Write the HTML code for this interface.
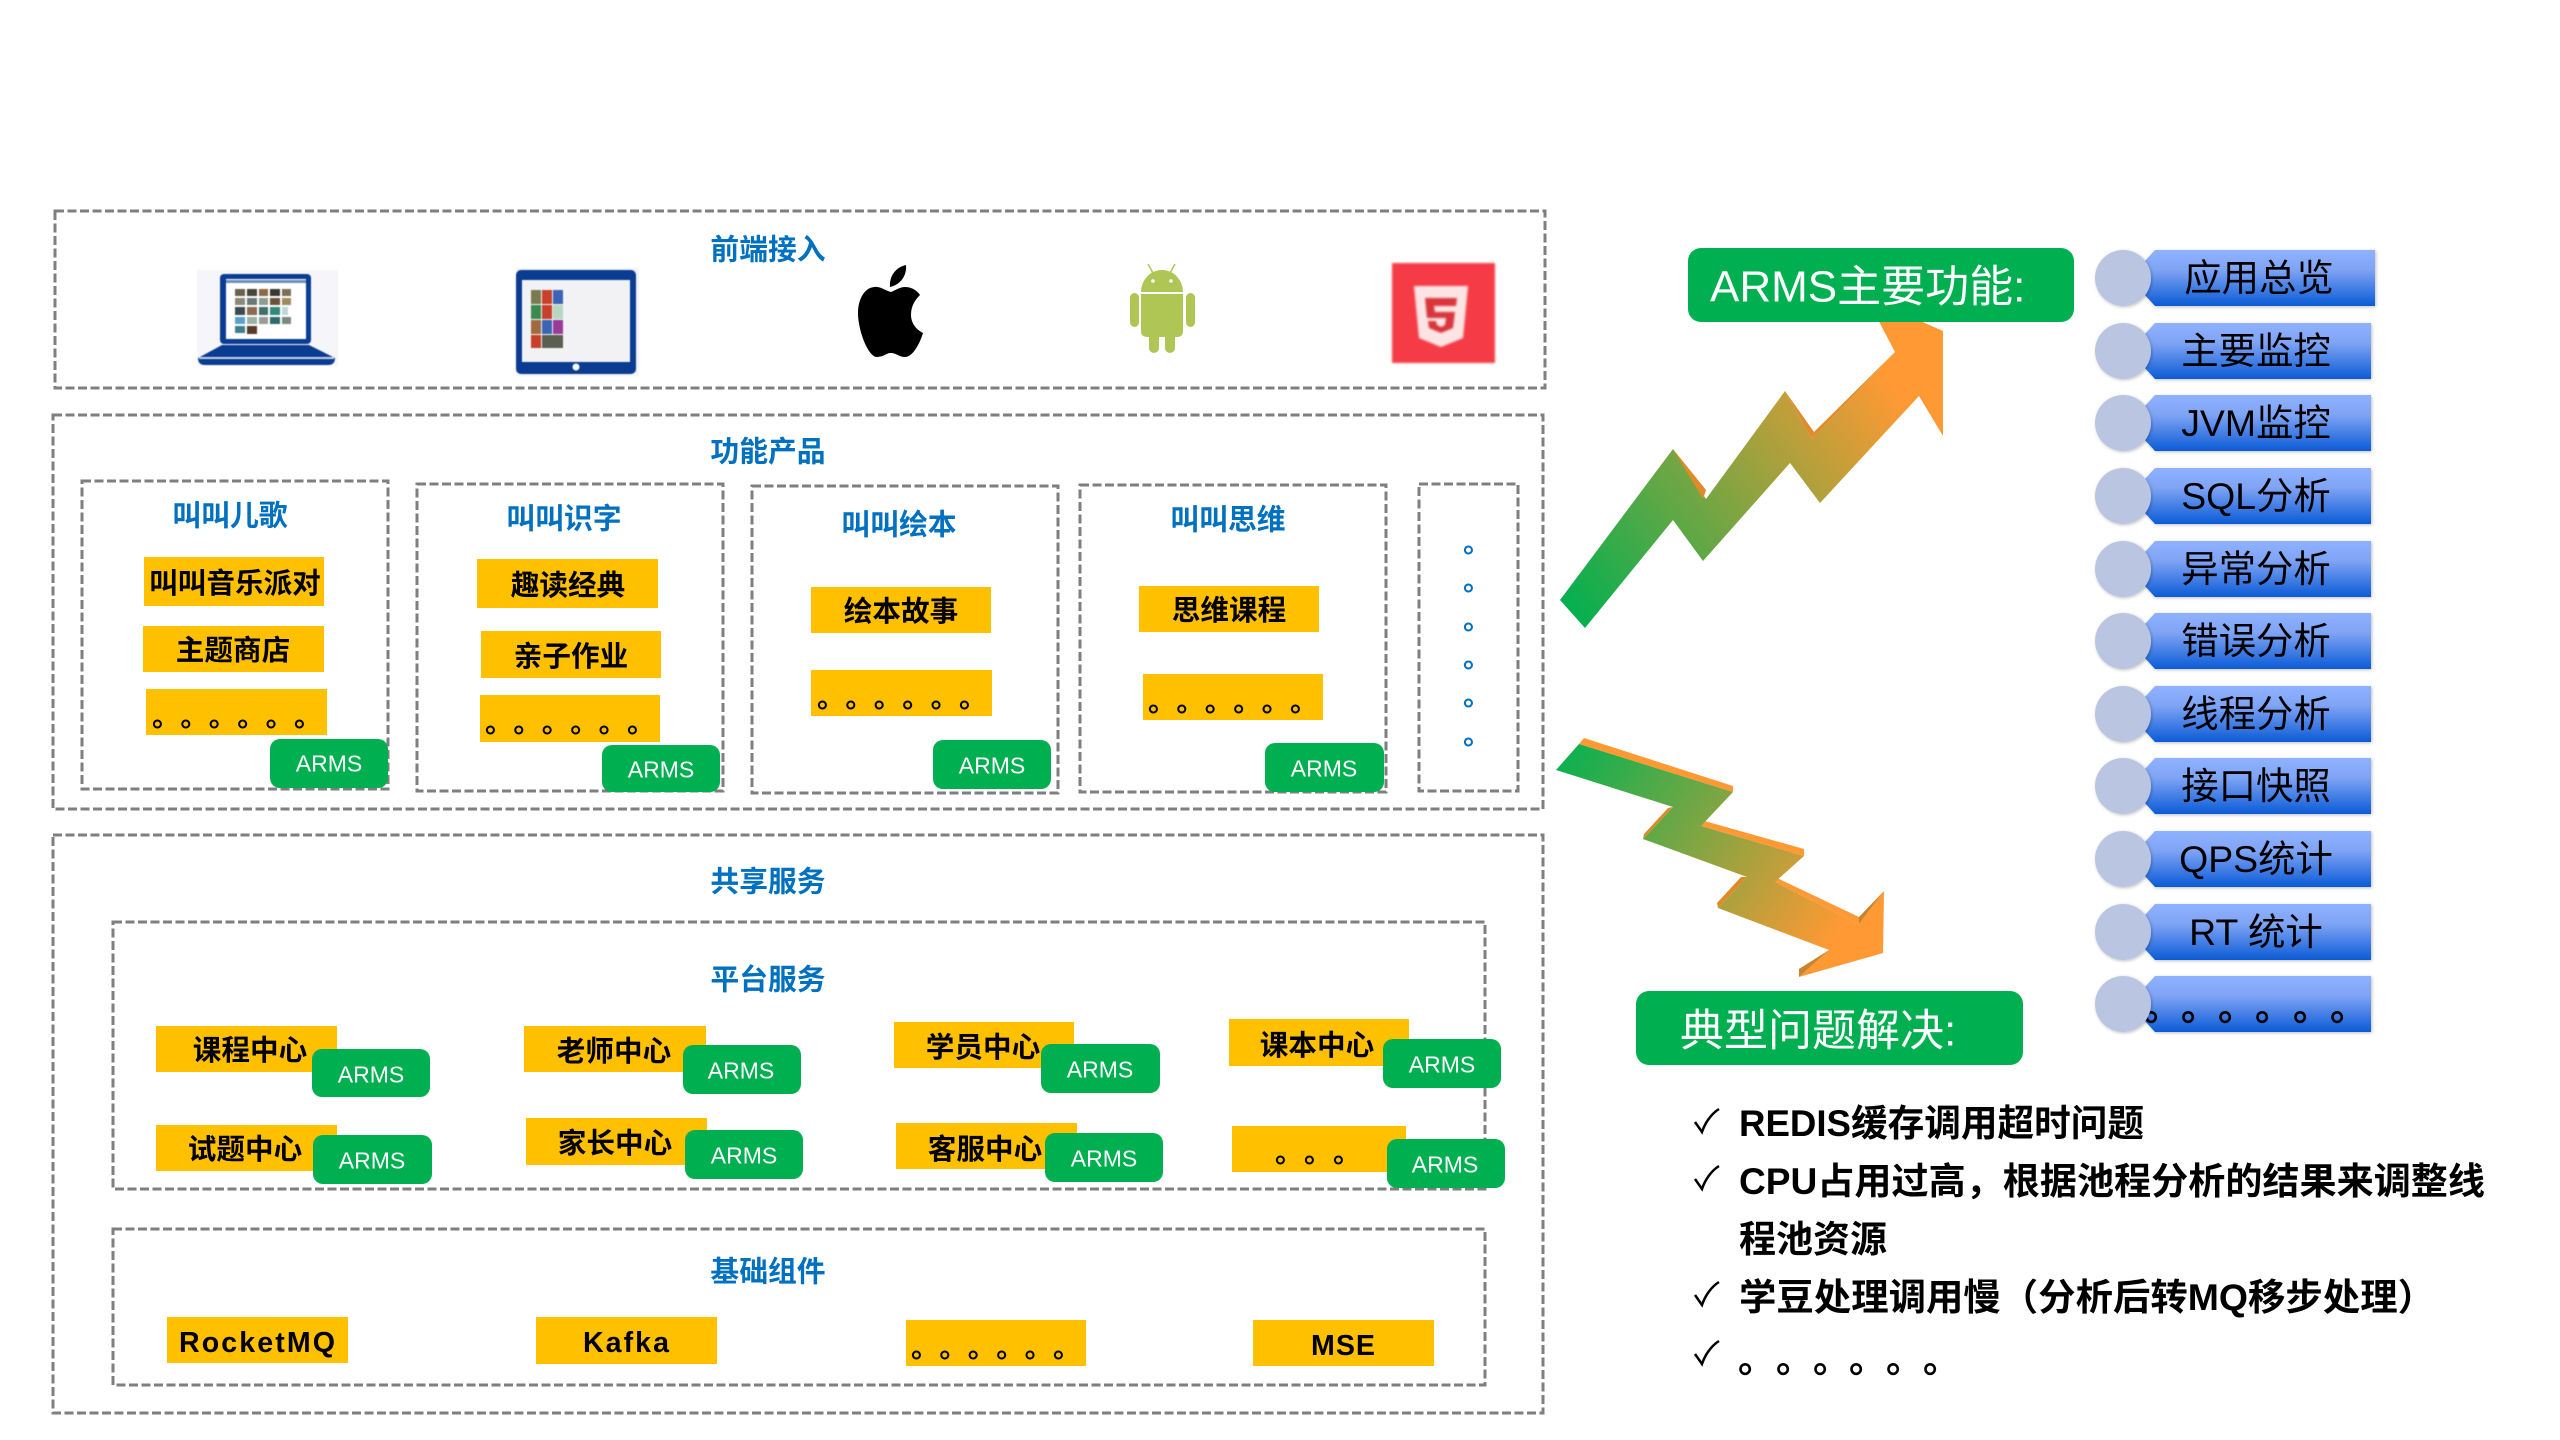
<!DOCTYPE html>
<html lang="zh"><head><meta charset="utf-8"><title>ARMS</title>
<style>
html,body{margin:0;padding:0;background:#fff}
svg{display:block}
text{font-family:"Liberation Sans","Noto Sans CJK SC",sans-serif;text-spacing-trim:space-all}
.box{fill:none;stroke:#7f7f7f;stroke-width:3;stroke-dasharray:9 3.5}
.t{font-size:28.8px;font-weight:700;fill:#0070c0;text-anchor:middle;dominant-baseline:central;transform:translateY(1.5px)}
.y{fill:#ffc000}
.g{fill:#00b050}
.k{font-size:28.6px;font-weight:700;fill:#000;text-anchor:middle;dominant-baseline:central;transform:translateY(1px)}
.a{font-size:23px;fill:#fff;text-anchor:middle;dominant-baseline:central;transform:translateY(.5px)}
.d{font-size:28px;font-weight:700;fill:#000}
.b{font-size:37.4px;fill:#000;text-anchor:middle;dominant-baseline:central}
.h{font-size:44px;fill:#fff;dominant-baseline:central;transform:translateY(2px)}
.l{font-size:37px;font-weight:700;fill:#000;dominant-baseline:central;transform:translateY(.5px)}
.c{fill:none;stroke:#000;stroke-width:2.5}
.soft{filter:blur(.5px)}
</style></head><body>
<svg xmlns="http://www.w3.org/2000/svg" width="2560" height="1440" viewBox="0 0 2560 1440">
<defs>
<linearGradient id="rowg" x1="0" y1="0" x2="0" y2="1"><stop offset="0" stop-color="#8fb2ff"/><stop offset=".35" stop-color="#7fa4f4"/><stop offset="1" stop-color="#0b5bd6"/></linearGradient>
<linearGradient id="up" gradientUnits="userSpaceOnUse" x1="1565" y1="615" x2="1920" y2="350"><stop offset="0" stop-color="#00b050"/><stop offset=".9" stop-color="#ff9933"/></linearGradient>
<linearGradient id="dn" gradientUnits="userSpaceOnUse" x1="1570" y1="760" x2="1850" y2="945"><stop offset="0" stop-color="#10b050"/><stop offset=".95" stop-color="#ff9933"/></linearGradient>
<filter id="sh" x="-5%" y="-10%" width="110%" height="125%"><feDropShadow dx="1" dy="1" stdDeviation="1.5" flood-color="#000" flood-opacity=".25"/></filter>
<g id="row">
<path d="M2155 0H2371V56H2155L2144 44V12Z" fill="url(#rowg)" filter="url(#sh)"/>
<ellipse cx="2123" cy="28" rx="28" ry="28" fill="#bac5e2" filter="url(#sh)"/>
</g>
</defs>

<!-- frames -->
<rect class="box" x="55" y="211" width="1490" height="177"/>
<rect class="box" x="53" y="415" width="1490" height="394"/>
<rect class="box" x="82" y="481" width="306" height="308"/>
<rect class="box" x="417" y="484" width="306" height="307"/>
<rect class="box" x="752" y="486" width="306" height="307"/>
<rect class="box" x="1080" y="485" width="306" height="307"/>
<rect class="box" x="1419" y="484" width="99" height="307"/>
<rect class="box" x="53" y="835" width="1490" height="578"/>
<rect class="box" x="113" y="922" width="1372" height="267"/>
<rect class="box" x="113" y="1229" width="1372" height="156"/>

<!-- titles -->
<text class="t" x="768" y="249">前端接入</text>
<text class="t" x="768" y="451">功能产品</text>
<text class="t" x="230" y="515">叫叫儿歌</text>
<text class="t" x="564" y="518">叫叫识字</text>
<text class="t" x="899" y="524">叫叫绘本</text>
<text class="t" x="1228" y="519">叫叫思维</text>
<text class="t" x="768" y="881">共享服务</text>
<text class="t" x="768" y="979">平台服务</text>
<text class="t" x="768" y="1271">基础组件</text>

<!-- laptop -->
<g class="soft">
<rect x="197" y="270" width="141" height="96" fill="#f6f6fa"/>
<rect x="220" y="274" width="91" height="70" rx="4" fill="#0a3d91"/>
<rect x="226" y="279" width="80" height="60" fill="#fff"/>
<rect x="226" y="280" width="80" height="3" fill="#6f8fbb"/>
<g fill="#6a6250">
<rect x="235" y="289" width="10" height="7"/><rect x="247" y="289" width="10" height="7" fill="#4a4438"/><rect x="259" y="289" width="9" height="7" fill="#8a6a48"/><rect x="270" y="289" width="10" height="7" fill="#3a3a34"/><rect x="282" y="289" width="9" height="7" fill="#7a7058"/>
<rect x="235" y="298" width="10" height="7" fill="#8a8a7a"/><rect x="247" y="298" width="10" height="7" fill="#6a7a78"/><rect x="259" y="298" width="9" height="7" fill="#8f9a90"/><rect x="270" y="298" width="10" height="7" fill="#6a5438"/><rect x="282" y="298" width="9" height="7" fill="#a08a60"/>
<rect x="235" y="307" width="10" height="8" fill="#3a4a50"/><rect x="247" y="307" width="10" height="8" fill="#8a6a50"/><rect x="259" y="307" width="9" height="8" fill="#3f6f6a"/><rect x="270" y="307" width="10" height="8" fill="#2f8a7a"/><rect x="282" y="307" width="6" height="8" fill="#c0d8d8"/>
<rect x="235" y="317" width="10" height="7" fill="#5aa0c8"/><rect x="247" y="317" width="10" height="7" fill="#9ab0a8"/><rect x="259" y="317" width="9" height="7" fill="#9a9a98"/><rect x="270" y="317" width="10" height="7" fill="#2f6a6a"/><rect x="282" y="317" width="9" height="7" fill="#7a8a80"/>
<rect x="235" y="326" width="10" height="7" fill="#3f7f8a"/><rect x="247" y="326" width="10" height="8" fill="#5a3a28"/>
</g>
<path d="M222 345H309L335 358Q335 365 328 365H205Q198 365 198 358Z" fill="#0a3d91"/>
<rect x="199" y="357" width="135" height="2" fill="#c8d4e8"/>
</g>
<!-- tablet -->
<g class="soft">
<rect x="516" y="268" width="123" height="108" fill="#f3f3f6"/>
<rect x="516" y="270" width="120" height="104" rx="5" fill="#0a3d91"/>
<rect x="522" y="280" width="108" height="82" fill="#f2f2f4"/>
<rect x="531" y="290" width="10" height="14" fill="#7a7a50"/><rect x="542" y="290" width="10" height="14" fill="#c8402a"/><rect x="553" y="290" width="10" height="14" fill="#3a64b4"/>
<rect x="531" y="305" width="10" height="14" fill="#3a8a50"/><rect x="542" y="305" width="10" height="14" fill="#c8402a"/><rect x="553" y="305" width="10" height="14" fill="#b6d8c0"/>
<rect x="531" y="320" width="10" height="14" fill="#a06a40"/><rect x="542" y="320" width="10" height="14" fill="#3a64b4"/><rect x="553" y="320" width="10" height="14" fill="#9a3a9a"/>
<rect x="531" y="335" width="10" height="13" fill="#c8402a"/><rect x="542" y="335" width="21" height="13" fill="#5a5f50"/>
<circle cx="576" cy="367" r="3.5" fill="#fff"/>
</g>
<!-- apple -->
<path d="M891 292C884 290 880 286 874 287C864 288 858 300 858 313C858 330 868 357 877 357C884 357 886 353 891 353C896 353 899 357 905 357C913 357 920 343 923 333C915 329 911 322 911 315C911 306 915 300 920 295C916 289 910 287 905 287C900 287 896 290 891 292Z" fill="#000"/>
<path d="M890 287C889 276 896 267 906 265C907 276 900 285 890 287Z" fill="#000"/>
<!-- android -->
<g fill="#afc654">
<path d="M1141 292A21 22 0 0 1 1183 292Z"/>
<path d="M1141 294H1183V331Q1183 337 1177 337H1147Q1141 337 1141 331Z"/>
<rect x="1130" y="293" width="9" height="34" rx="4.5"/><rect x="1186" y="293" width="9" height="34" rx="4.5"/>
<rect x="1149" y="332" width="10" height="21" rx="5"/><rect x="1165" y="332" width="10" height="21" rx="5"/>
</g>
<path d="M1148 264L1153 273M1175 264L1170 273" stroke="#afc654" stroke-width="1.5"/>
<circle cx="1153" cy="281" r="1.8" fill="#fff"/><circle cx="1171" cy="281" r="1.8" fill="#fff"/>
<!-- html5 -->
<g style="filter:blur(1px)">
<rect x="1392" y="263" width="103" height="100" fill="#f53c46"/>
<path d="M1414 286H1468L1463 338L1441 347L1419 338Z" fill="#fde4e4"/>
<path d="M1425 298H1457L1456 306H1434L1435 312H1455L1453 328L1441 333L1429 328L1428 321H1436L1437 325L1441 327L1445 325L1446 318H1427Z" fill="#d8363c"/>
</g>

<!-- product 1 -->
<rect class="y" x="144" y="557" width="180" height="49"/><text class="k" x="235" y="583">叫叫音乐派对</text>
<rect class="y" x="143" y="626" width="181" height="46"/><text class="k" x="233" y="650">主题商店</text>
<rect class="y" x="146" y="689" width="181" height="46"/><text class="d" x="152 180.4 208.8 237.2 265.6 294" y="726">。。。。。。</text>
<rect class="g" x="270" y="739" width="118" height="49" rx="10"/><text class="a" x="329" y="763">ARMS</text>
<!-- product 2 -->
<rect class="y" x="477" y="559" width="181" height="49"/><text class="k" x="568" y="585">趣读经典</text>
<rect class="y" x="481" y="631" width="180" height="47"/><text class="k" x="571" y="656">亲子作业</text>
<rect class="y" x="480" y="695" width="180" height="47"/><text class="d" x="485 513.4 541.8 570.2 598.6 627" y="732">。。。。。。</text>
<rect class="g" x="602" y="745" width="118" height="47" rx="10"/><text class="a" x="661" y="769">ARMS</text>
<!-- product 3 -->
<rect class="y" x="811" y="587" width="180" height="46"/><text class="k" x="901" y="611">绘本故事</text>
<rect class="y" x="811" y="670" width="181" height="46"/><text class="d" x="817 845.4 873.8 902.2 930.6 959" y="707">。。。。。。</text>
<rect class="g" x="933" y="740" width="118" height="49" rx="10"/><text class="a" x="992" y="765">ARMS</text>
<!-- product 4 -->
<rect class="y" x="1139" y="586" width="180" height="46"/><text class="k" x="1229" y="610">思维课程</text>
<rect class="y" x="1143" y="674" width="180" height="46"/><text class="d" x="1148 1176.4 1204.8 1233.2 1261.6 1290" y="711">。。。。。。</text>
<rect class="g" x="1265" y="743" width="119" height="49" rx="10"/><text class="a" x="1324" y="768">ARMS</text>
<!-- column dots -->
<text class="d" style="fill:#0070c0" x="1463" y="552">。</text>
<text class="d" style="fill:#0070c0" x="1463" y="590">。</text>
<text class="d" style="fill:#0070c0" x="1463" y="629">。</text>
<text class="d" style="fill:#0070c0" x="1463" y="667">。</text>
<text class="d" style="fill:#0070c0" x="1463" y="705">。</text>
<text class="d" style="fill:#0070c0" x="1463" y="744">。</text>

<!-- platform services -->
<rect class="y" x="156" y="1026" width="181" height="46"/><text class="k" x="250" y="1050">课程中心</text>
<rect class="g" x="312" y="1049" width="118" height="48" rx="10"/><text class="a" x="371" y="1074">ARMS</text>
<rect class="y" x="524" y="1026" width="182" height="46"/><text class="k" x="614" y="1051">老师中心</text>
<rect class="g" x="683" y="1045" width="118" height="49" rx="10"/><text class="a" x="741" y="1070">ARMS</text>
<rect class="y" x="894" y="1022" width="180" height="46"/><text class="k" x="983" y="1047">学员中心</text>
<rect class="g" x="1041" y="1044" width="119" height="49" rx="10"/><text class="a" x="1100" y="1069">ARMS</text>
<rect class="y" x="1229" y="1019" width="180" height="47"/><text class="k" x="1317" y="1045">课本中心</text>
<rect class="g" x="1383" y="1039" width="118" height="49" rx="10"/><text class="a" x="1442" y="1064">ARMS</text>
<rect class="y" x="156" y="1125" width="181" height="46"/><text class="k" x="245" y="1149">试题中心</text>
<rect class="g" x="313" y="1135" width="119" height="49" rx="10"/><text class="a" x="372" y="1160">ARMS</text>
<rect class="y" x="526" y="1118" width="181" height="47"/><text class="k" x="615" y="1143">家长中心</text>
<rect class="g" x="685" y="1130" width="118" height="49" rx="10"/><text class="a" x="744" y="1155">ARMS</text>
<rect class="y" x="896" y="1123" width="181" height="46"/><text class="k" x="985" y="1149">客服中心</text>
<rect class="g" x="1045" y="1133" width="118" height="49" rx="10"/><text class="a" x="1104" y="1158">ARMS</text>
<rect class="y" x="1232" y="1126" width="174" height="46"/><text class="d" x="1275 1304 1333" y="1162">。。。</text>
<rect class="g" x="1387" y="1139" width="118" height="49" rx="10"/><text class="a" x="1445" y="1164">ARMS</text>

<!-- base -->
<rect class="y" x="167" y="1317" width="181" height="46"/><text class="k" x="257" y="1342" textLength="156" lengthAdjust="spacing">RocketMQ</text>
<rect class="y" x="536" y="1317" width="181" height="47"/><text class="k" x="626" y="1342" textLength="86" lengthAdjust="spacing">Kafka</text>
<rect class="y" x="906" y="1320" width="180" height="46"/><text class="d" x="911 939.4 967.8 996.2 1024.6 1053" y="1357">。。。。。。</text>
<rect class="y" x="1253" y="1320" width="181" height="46"/><text class="k" x="1343" y="1345" textLength="64" lengthAdjust="spacing">MSE</text>

<!-- up arrow -->
<path d="M1560 600L1585 628L1673 520L1703 561L1790 463L1820 503L1919 396L1943 436L1943 331L1900 312L1874 312L1895 352L1812 439L1785 391L1706 499L1673 449Z" fill="url(#up)"/>
<path d="M1673 449L1706 490L1703 499Z" fill="#e08a2a"/>
<path d="M1785 391L1814 432L1812 439Z" fill="#e08a2a"/>
<path d="M1895 352L1814 432L1812 439Z" fill="#e08a2a"/>
<!-- green header 1 -->
<rect class="g" x="1688" y="248" width="386" height="74" rx="13"/>
<text class="h" x="1710" y="285">ARMS主要功能:</text>

<!-- down arrow -->
<path d="M1579 744L1584 738L1733 786L1733 792Z" fill="#ff9933"/>
<path d="M1701 826L1701 820L1804 849L1804 856Z" fill="#ff9933"/>
<path d="M1775 882L1777 878L1859 917L1859 924Z" fill="#ff9933"/>
<path d="M1556 770L1579 744L1733 792L1701 826L1804 856L1775 882L1859 924L1884 891L1883 953L1799 977L1829 950L1718 908L1747 877L1643 839L1673 807Z" fill="url(#dn)"/>
<path d="M1859 924L1884 891L1859 917Z" fill="#c8832b"/>
<path d="M1799 977L1829 950L1799 969Z" fill="#c8832b"/>
<path d="M1643 839L1673 807L1668 808L1644 834Z" fill="#dd8a2a"/>
<path d="M1718 908L1747 877L1741 877L1717 903Z" fill="#dd8a2a"/>
<!-- green header 2 -->
<rect class="g" x="1636" y="991" width="387" height="74" rx="13"/>
<text class="h" x="1680" y="1029">典型问题解决:</text>

<!-- function list -->
<path d="M2155 250H2375V306H2155L2144 294V262Z" fill="url(#rowg)" filter="url(#sh)"/>
<ellipse cx="2123" cy="278" rx="28" ry="28" fill="#bac5e2" filter="url(#sh)"/>
<use href="#row" y="323"/><use href="#row" y="395"/><use href="#row" y="468"/><use href="#row" y="541"/><use href="#row" y="613"/><use href="#row" y="686"/><use href="#row" y="758"/><use href="#row" y="831"/><use href="#row" y="904"/>
<path d="M2155 976H2371V1032H2155L2144 1020V988Z" fill="url(#rowg)" filter="url(#sh)"/>
<text class="d" style="font-size:37px" x="2144 2181 2218 2255 2293 2330" y="1020">。。。。。。</text>
<ellipse cx="2123" cy="1004" rx="28" ry="28" fill="#bac5e2" filter="url(#sh)"/>
<text class="b" x="2259" y="278">应用总览</text>
<text class="b" x="2256" y="351">主要监控</text>
<text class="b" x="2256" y="423">JVM监控</text>
<text class="b" x="2256" y="496">SQL分析</text>
<text class="b" x="2256" y="569">异常分析</text>
<text class="b" x="2256" y="641">错误分析</text>
<text class="b" x="2256" y="714">线程分析</text>
<text class="b" x="2256" y="786">接口快照</text>
<text class="b" x="2256" y="859">QPS统计</text>
<text class="b" x="2256" y="932">RT 统计</text>

<!-- bullets -->
<path class="c" d="M1695 1122L1702 1132C1705 1123 1711 1114 1719 1109"/>
<path class="c" d="M1695 1179L1702 1189C1705 1180 1711 1171 1719 1166"/>
<path class="c" d="M1695 1295L1702 1305C1705 1296 1711 1287 1719 1282"/>
<path class="c" d="M1695 1354L1702 1364C1705 1355 1711 1346 1719 1341"/>
<text class="l" x="1739" y="1123" textLength="405" lengthAdjust="spacingAndGlyphs">REDIS缓存调用超时问题</text>
<text class="l" x="1739" y="1181" textLength="746" lengthAdjust="spacingAndGlyphs">CPU占用过高，根据池程分析的结果来调整线</text>
<text class="l" x="1739" y="1239">程池资源</text>
<text class="l" x="1739" y="1297" textLength="696" lengthAdjust="spacingAndGlyphs">学豆处理调用慢（分析后转MQ移步处理）</text>
<text class="d" style="font-size:37px" x="1738 1776 1813 1849 1886 1923" y="1372">。。。。。。</text>
</svg>
</body></html>
